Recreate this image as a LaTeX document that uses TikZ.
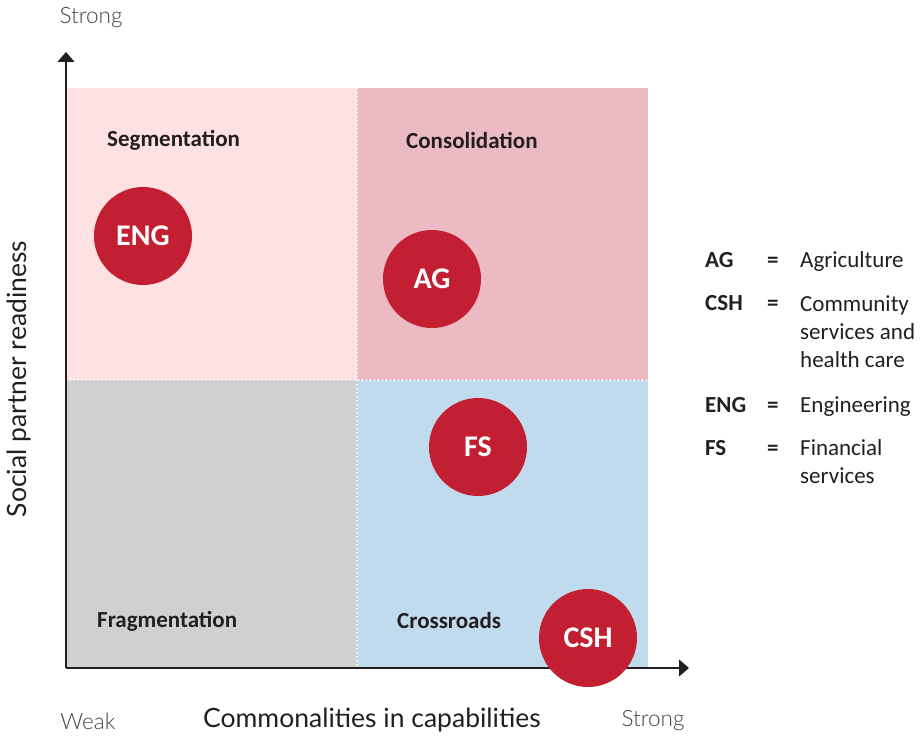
\documentclass[tikz,border=0pt]{standalone}
\usepackage{fontspec}
\setmainfont{Carlito}
\newfontfamily\axisfont{Lato}
\newfontfamily\axislight{Lato Light}
\usetikzlibrary{arrows.meta}
\definecolor{segfill}{HTML}{FDE1E3}
\definecolor{confill}{HTML}{ECBAC2}
\definecolor{frafill}{HTML}{D0D0D0}
\definecolor{crofill}{HTML}{C0DBED}
\definecolor{dotred}{HTML}{C21F32}
\definecolor{ink}{HTML}{231F20}
\begin{document}
\begin{tikzpicture}[x=1pt,y=-1pt,
  qlabel/.style={anchor=west,font=\bfseries\fontsize{23}{27}\selectfont,text=ink,inner sep=0},
  sector/.style={circle,fill=dotred,minimum size=98pt,inner sep=0,text=white,font=\bfseries\fontsize{30}{34}\selectfont},
  divider/.style={white,line width=1.3pt,dash pattern=on 1.3pt off 2.7pt},
  axis/.style={ink,line width=1.2pt,-{Triangle[length=10pt,width=17pt]}},
  endlabel/.style={text=ink!85,font=\axislight\fontsize{22.5}{26}\selectfont,inner sep=0},
  axisname/.style={text=ink,font=\axisfont\fontsize{26.5}{30}\selectfont,inner sep=0},
  legkey/.style={anchor=base west,inner sep=0,text=ink,font=\bfseries\fontsize{23}{28}\selectfont},
  legtext/.style={anchor=base west,inner sep=0,text=ink,align=left,font=\fontsize{23}{28}\selectfont}]
\useasboundingbox (0,0) rectangle (922,738);
% quadrants
\fill[segfill] (66,88) rectangle (357,380);
\fill[confill] (357,88) rectangle (648,380);
\fill[frafill] (66,380) rectangle (357,668);
\fill[crofill] (357,380) rectangle (648,668);
\draw[divider] (357,88) -- (357,668);
\draw[divider] (66,380) -- (648,380);
% axes
\coordinate (origin) at (66,668);
\coordinate (ytip) at (66,52);
\coordinate (xtip) at (689,668);
\draw[axis] (origin) -- (ytip);
\draw[axis] (origin) -- (xtip);
% quadrant names
\node[qlabel] (seg) at (107,140) {Segmentation};
\node[qlabel] (con) at (406,140) {Consolidation};
\node[qlabel] (fra) at (97,621) {Fragmentation};
\node[qlabel] (cro) at (397,621) {Crossroads};
% sectors
\node[sector] (eng) at (143,236) {ENG};
\node[sector] (ag) at (432,279) {AG};
\node[sector] (fs) at (478,447) {FS};
\node[sector] (csh) at (588,638) {CSH};
% axis labels
\node[endlabel] (ystrong) at (91,18) {Strong};
\node[endlabel] (xweak) at (88,721) {Weak};
\node[endlabel] (xstrong) at (653,721) {Strong};
\node[axisname] (xname) at (372,720) {Commonalities in capabilities};
\node[axisname,rotate=90] (yname) at (19,379) {Social partner readiness};
% legend (multi-line entries sit on the baseline of their last line)
\node[legkey] (kag) at (705,268) {AG};
\node[legkey] (kcsh) at (705,311) {CSH};
\node[legkey] (keng) at (705,412) {ENG};
\node[legkey] (kfs) at (705,455) {FS};
\foreach \yy in {268,311,412,455} \node[legkey] at (767,\yy) {=};
\node[legtext] (tag) at (800,268) {Agriculture};
\node[legtext] (tcsh) at (800,367) {Community\\services and\\health care};
\node[legtext] (teng) at (800,412) {Engineering};
\node[legtext] (tfs) at (800,483) {Financial\\services};
\end{tikzpicture}
\end{document}
